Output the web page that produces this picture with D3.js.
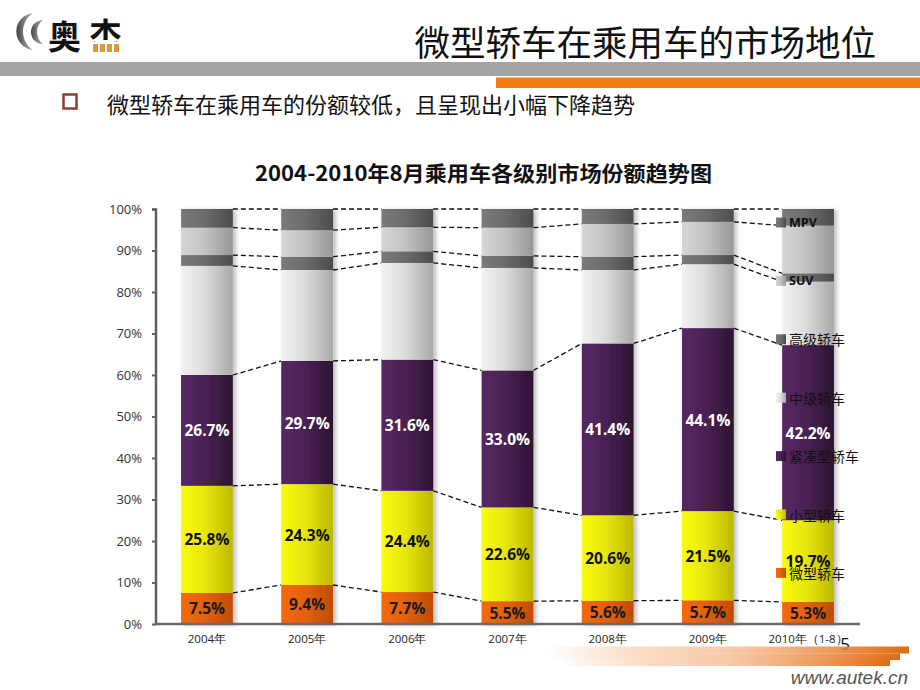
<!DOCTYPE html>
<html><head><meta charset="utf-8">
<script src="https://cdn.jsdelivr.net/npm/d3@7"></script>
<style>
html,body{margin:0;padding:0;background:#fff;}
svg{display:block;}
</style></head>
<body><div id="chart"></div>
<script>
// ---------- data ----------
const categories = ["2004年","2005年","2006年","2007年","2008年","2009年","2010年（1-8）"];
const seriesNames = ["微型轿车","小型轿车","紧凑型轿车","中级轿车","高级轿车","SUV","MPV"];
const micro   = [7.5, 9.4, 7.7, 5.5, 5.6, 5.7, 5.3];
const small   = [25.8, 24.3, 24.4, 22.6, 20.6, 21.5, 19.7];
const compact = [26.7, 29.7, 31.6, 33.0, 41.4, 44.1, 42.2];
const midsize = [26.3, 21.9, 23.3, 24.7, 17.7, 15.4, 15.3];
const upper   = [2.6, 3.2, 2.8, 2.9, 3.2, 2.2, 2.0];
const suv     = [6.6, 6.4, 5.8, 6.8, 7.9, 8.0, 11.5];
const mpv     = [4.5, 5.1, 4.4, 4.5, 3.6, 3.1, 4.0];
const yTicks  = [0,10,20,30,40,50,60,70,80,90,100];
const labelledSeries = ["微型轿车","小型轿车","紧凑型轿车"];

const seriesValues = [micro, small, compact, midsize, upper, suv, mpv];
const table = categories.map((c,i)=>{
  const row = {cat:c};
  seriesNames.forEach((s,k)=>row[s]=seriesValues[k][i]);
  return row;
});

// ---------- styles ----------
const grad = {
  "微型轿车":["#f36a10","#c04c02"],
  "小型轿车":["#fbfb10","#bdb900"],
  "紧凑型轿车":["#572863","#2c1432"],
  "中级轿车":["#f2f2f2","#a9a9a9"],
  "高级轿车":["#7a7a7a","#4c4c4c"],
  "SUV":["#d6d6d6","#979797"],
  "MPV":["#7a7a7a","#4c4c4c"]
};
const labelColor = {"微型轿车":"#1a1a1a","小型轿车":"#111","紧凑型轿车":"#fff"};

const W=920,H=690;
const svg = d3.select("#chart").append("svg").attr("width",W).attr("height",H);
const defs = svg.append("defs");
seriesNames.forEach((s,i)=>{
  const g = defs.append("linearGradient").attr("id","g"+i).attr("x1","0").attr("x2","1").attr("y1","0").attr("y2","0");
  g.append("stop").attr("offset","0").attr("stop-color",grad[s][0]);
  g.append("stop").attr("offset","0.45").attr("stop-color",d3.interpolateRgb(grad[s][0],grad[s][1])(0.3));
  g.append("stop").attr("offset","1").attr("stop-color",grad[s][1]);
});
const sh = defs.append("filter").attr("id","shadow").attr("x","-10%").attr("y","-5%").attr("width","130%").attr("height","110%");
sh.append("feDropShadow").attr("dx",3).attr("dy",1).attr("stdDeviation",2).attr("flood-color","#000").attr("flood-opacity",0.25);

const og = defs.append("linearGradient").attr("id","swoosh").attr("x1","0").attr("x2","1");
og.append("stop").attr("offset","0").attr("stop-color","#f07c20").attr("stop-opacity",0);
og.append("stop").attr("offset","0.5").attr("stop-color","#f3a870").attr("stop-opacity",0.6);
og.append("stop").attr("offset","1").attr("stop-color","#e06a10").attr("stop-opacity",1);

const lg = defs.append("linearGradient").attr("id","logoG").attr("x1","0").attr("x2","1");
lg.append("stop").attr("offset","0").attr("stop-color","#444");
lg.append("stop").attr("offset","1").attr("stop-color","#bbb");

// ---------- header ----------
svg.append("path").attr("d","M33,13 A18.6,18.6 0 0 0 33,50 A22.1,22.1 0 0 1 33,13 Z").attr("fill","url(#logoG)");
svg.append("path").attr("d","M43,20 A12,12 0 0 0 43,44 A15,15 0 0 1 43,20 Z").attr("fill","url(#logoG)");
svg.append("text").attr("x",48).attr("y",35).attr("dominant-baseline","central")
  .attr("font-family","Noto Sans CJK SC").attr("font-weight","bold").attr("font-size",33).attr("fill","#111").text("奥");
defs.append("clipPath").attr("id","logoClip").append("rect").attr("x",80).attr("y",0).attr("width",60).attr("height",42);
svg.append("text").attr("x",89).attr("y",33).attr("dominant-baseline","central").attr("clip-path","url(#logoClip)")
  .attr("font-family","Noto Sans CJK SC").attr("font-weight","bold").attr("font-size",33).attr("fill","#111").text("杰");
[93,100,107,114].forEach(x=>svg.append("rect").attr("x",x).attr("y",44).attr("width",5).attr("height",8).attr("fill","#d99a3a"));

svg.append("text").attr("x",876).attr("y",40).attr("text-anchor","end").attr("dominant-baseline","central")
  .attr("font-family","Noto Sans CJK SC").attr("font-size",35.5).attr("fill","#111").text("微型轿车在乘用车的市场地位");
svg.append("rect").attr("x",0).attr("y",62).attr("width",W).attr("height",14).attr("fill","#a4a4a4");
svg.append("rect").attr("x",496).attr("y",77.5).attr("width",W-496).attr("height",10.5).attr("fill","#f27d0e");

svg.append("rect").attr("x",63.5).attr("y",94.5).attr("width",13).attr("height",14).attr("fill","none")
  .attr("stroke","#8e3e30").attr("stroke-width",2.5);
svg.append("text").attr("x",107).attr("y",103).attr("dominant-baseline","central")
  .attr("font-family","Noto Sans CJK SC").attr("font-size",22).attr("fill","#111").text("微型轿车在乘用车的份额较低，且呈现出小幅下降趋势");

svg.append("text").attr("x",483.5).attr("y",172).attr("text-anchor","middle").attr("dominant-baseline","central")
  .attr("font-family","Noto Sans CJK SC").attr("font-weight","bold").attr("font-size",21)
  .attr("textLength",457).attr("lengthAdjust","spacingAndGlyphs")
  .attr("fill","#111").text("2004-2010年8月乘用车各级别市场份额趋势图");

// ---------- chart ----------
const x = d3.scaleBand().domain(categories).range([155,860]).paddingInner(0.483).paddingOuter(0.26);
const y = d3.scaleLinear().domain([0,100]).range([624,209]);
const stack = d3.stack().keys(seriesNames)(table);

// dashed connectors
const conn = svg.append("g");
stack.forEach(layer=>{
  for(let i=0;i<categories.length-1;i++){
    const a=layer[i], b=layer[i+1];
    conn.append("line")
      .attr("x1",x(categories[i])+x.bandwidth()).attr("y1",y(a[1]))
      .attr("x2",x(categories[i+1])).attr("y2",y(b[1]))
      .attr("stroke","#111").attr("stroke-width",1.3).attr("stroke-dasharray","5,3");
  }
});

// bars
const barsG = svg.append("g");
categories.forEach((c,i)=>{
  const bg = barsG.append("g").attr("filter","url(#shadow)");
  stack.forEach((layer,k)=>{
    const d = layer[i];
    bg.append("rect").attr("x",x(c)).attr("width",x.bandwidth())
      .attr("y",y(d[1])).attr("height",y(d[0])-y(d[1]))
      .attr("fill","url(#g"+k+")");
  });
});

// labels
const labG = svg.append("g");
stack.forEach((layer,k)=>{
  const s = seriesNames[k];
  if(!labelledSeries.includes(s)) return;
  layer.forEach((d,i)=>{
    labG.append("text").attr("x",x(categories[i])+x.bandwidth()/2).attr("y",y((d[0]+d[1])/2))
      .attr("text-anchor","middle").attr("dominant-baseline","central")
      .attr("font-family","Open Sans").attr("font-weight","bold").attr("font-size",15.5)
      .attr("fill",labelColor[s]).text(d.data[s].toFixed(1)+"%");
  });
});

// axes
const yAxis = svg.append("g").attr("transform","translate(156,0)")
  .call(d3.axisLeft(y).tickValues(yTicks).tickFormat(d=>d+"%").tickSize(4).tickPadding(10));
yAxis.select(".domain").attr("stroke","#5f5f5f").attr("stroke-width",2.5).attr("d","M-4,209.5H0V624");
yAxis.selectAll(".tick line").attr("stroke","#5f5f5f").attr("stroke-width",2);
yAxis.selectAll(".tick text").attr("font-family","Open Sans").attr("font-size",13).attr("fill","#333");

const xAxis = svg.append("g").attr("transform","translate(0,624)")
  .call(d3.axisBottom(x).tickSize(0).tickPadding(11));
xAxis.select(".domain").attr("stroke","#6a6a6a").attr("stroke-width",2.5).attr("d","M155,0H860");
xAxis.selectAll(".tick text").attr("font-family","Open Sans").attr("font-size",11.5).attr("fill","#222");

// legend (reverse order, over the last bar)
const legendOrder = seriesNames.slice().reverse();
const leg = svg.append("g");
legendOrder.forEach((s,j)=>{
  const k = seriesNames.indexOf(s);
  const cy = 222.5 + j*58.4;
  leg.append("rect").attr("x",776).attr("y",cy-5).attr("width",10).attr("height",10).attr("fill","url(#g"+k+")");
  const ascii = /^[A-Z]+$/.test(s);
  leg.append("text").attr("x",789).attr("y",cy).attr("dominant-baseline","central")
    .attr("font-family", ascii ? "Open Sans" : "Noto Sans CJK SC")
    .attr("font-weight", ascii ? "bold" : "normal")
    .attr("font-size", ascii ? 12.5 : 14).attr("fill","#111").text(s);
});

// page number & footer
svg.append("text").attr("x",845).attr("y",643).attr("text-anchor","middle").attr("dominant-baseline","central")
  .attr("font-family","Open Sans").attr("font-size",17).attr("fill","#111").text("5");
svg.append("rect").attr("x",545).attr("y",646.5).attr("width",364).attr("height",7).attr("fill","url(#swoosh)");
svg.append("rect").attr("x",550).attr("y",653.5).attr("width",350).attr("height",6.5).attr("fill","url(#swoosh)");
svg.append("rect").attr("x",560).attr("y",660).attr("width",330).attr("height",6).attr("fill","url(#swoosh)");
svg.append("text").attr("x",908).attr("y",677).attr("text-anchor","end").attr("dominant-baseline","central")
  .attr("font-family","Liberation Sans").attr("font-style","italic").attr("font-size",19).attr("fill","#555").text("www.autek.cn");
</script></body></html>
